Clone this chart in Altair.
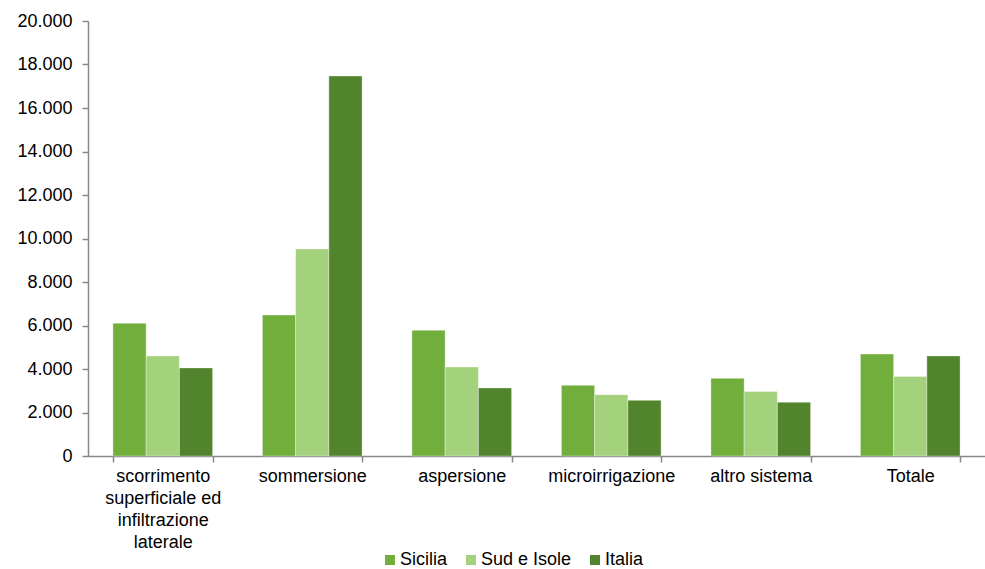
import altair as alt
import pandas as pd

categories = ["scorrimento superficiale ed infiltrazione laterale", "sommersione",
              "aspersione", "microirrigazione", "altro sistema", "Totale"]
series = ["Sicilia", "Sud e Isole", "Italia"]
sicilia = [6100, 6480, 5780, 3250, 3570, 4690]
sud_isole = [4600, 9520, 4090, 2820, 2960, 3660]
italia = [4050, 17470, 3130, 2560, 2470, 4600]
colors = ["#71AE3C", "#A3D17C", "#52832D"]

rows = []
for s, vals in zip(series, [sicilia, sud_isole, italia]):
    for c, v in zip(categories, vals):
        rows.append({"categoria": c, "serie": s, "valore": v})
df = pd.DataFrame(rows)

FONT = "Liberation Sans"
label_expr = ("datum.label == 'scorrimento superficiale ed infiltrazione laterale' ? "
              "['scorrimento', 'superficiale ed', 'infiltrazione', 'laterale'] : datum.label")

chart = alt.Chart(df).mark_bar(stroke="#ffffff", strokeWidth=0.6, strokeOpacity=0.6).encode(
    x=alt.X("categoria:N", sort=categories, title=None,
            scale=alt.Scale(paddingInner=1/3, paddingOuter=1/6),
            axis=alt.Axis(labelAngle=0, labelExpr=label_expr, tickBand="extent",
                          labelLineHeight=22, labelPadding=5, tickSize=6,
                          labelBaseline="top")),
    xOffset=alt.XOffset("serie:N", sort=series),
    y=alt.Y("valore:Q", title=None,
            scale=alt.Scale(domain=[0, 20000]),
            axis=alt.Axis(values=list(range(0, 20001, 2000)), grid=False,
                          labelExpr="replace(format(datum.value, ','), ',', '.')",
                          tickSize=6, labelPadding=10)),
    color=alt.Color("serie:N", sort=series, title=None,
                    scale=alt.Scale(domain=series, range=colors),
                    legend=alt.Legend(orient="none", direction="horizontal",
                                      legendX=293, legendY=530,
                                      symbolType="square", symbolSize=100,
                                      symbolStrokeWidth=0, labelOffset=1,
                                      columnPadding=14, padding=0,
                                      labelFontSize=18, labelFont=FONT,
                                      labelColor="#000000")),
).properties(
    width=897, height=435,
    autosize=alt.AutoSizeParams(type="none"),
    padding={"left": 88, "top": 21, "right": 0, "bottom": 113},
).configure_view(stroke=None).configure_axis(
    domainColor="#888888", tickColor="#888888", domainWidth=1.5, tickWidth=1.5,
    labelFont=FONT, labelFontSize=18, labelColor="#000000",
)

chart.save("out.html", embed_options={"renderer": "svg", "actions": False})
